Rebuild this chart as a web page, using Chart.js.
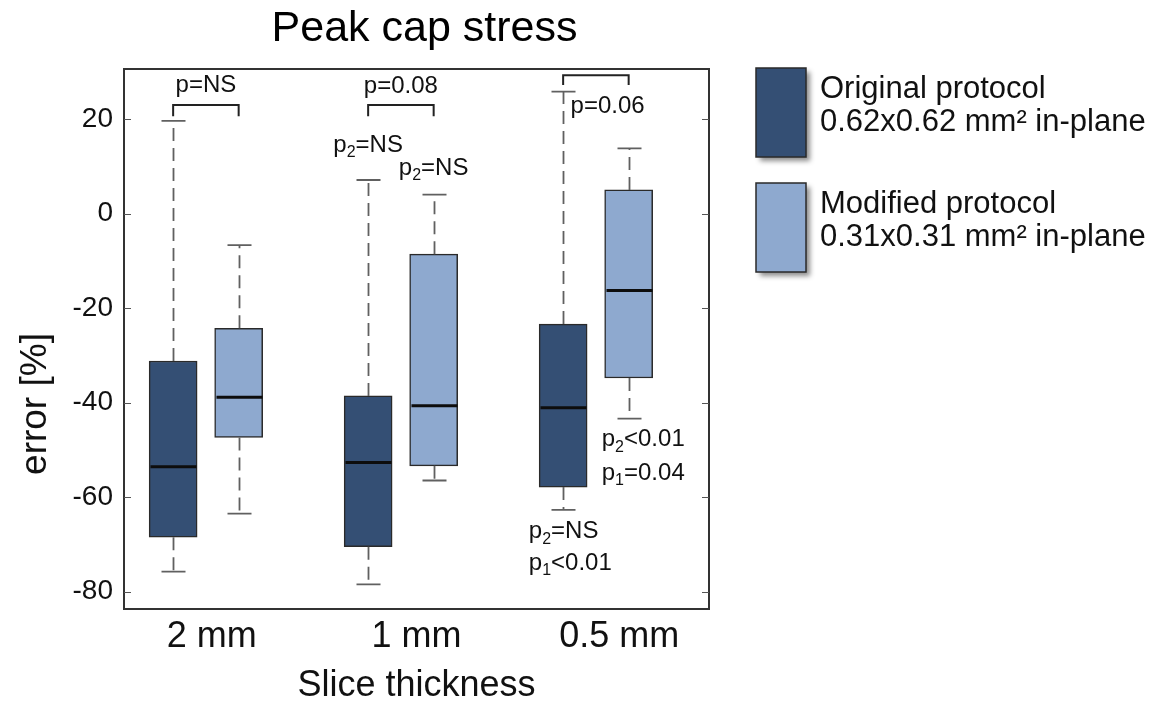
<!DOCTYPE html>
<html>
<head>
<meta charset="utf-8">
<title>Peak cap stress</title>
<script src="https://cdn.jsdelivr.net/npm/chart.js@4.4.1/dist/chart.umd.min.js"></script>
<style>
  html, body { margin: 0; padding: 0; background: #fff; }
  #wrap { width: 1157px; height: 704px; }
</style>
</head>
<body>
<div id="wrap"><canvas id="chart" width="1157" height="704"></canvas></div>
<script>
// categories, where their labels sit on the x axis, and y ticks
const CATEGORIES = ['2 mm', '1 mm', '0.5 mm'];
const CATEGORY_LABEL_AT = [0.03, 1.08, 2.12];
const Y_TICKS = [-80, -60, -40, -20, 0, 20];

// Original protocol (0.62x0.62 mm2) - box stats
const ORIG_MIN = [-75.8, -78.5, -62.7];
const ORIG_Q1  = [-68.5, -70.5, -57.9];
const ORIG_MED = [-53.6, -52.7, -41.1];
const ORIG_Q3  = [-31.2, -38.6, -23.4];
const ORIG_MAX = [19.6, 7.1, 25.8];

// Modified protocol (0.31x0.31 mm2)
const MOD_MIN = [-63.5, -56.5, -43.4];
const MOD_Q1  = [-47.4, -53.4, -34.8];
const MOD_MED = [-38.9, -40.7, -16.3];
const MOD_Q3  = [-24.3, -8.6, 5.0];
const MOD_MAX = [-6.7, 4.0, 13.8];

// p-value texts
const PAIR_P = ['p=NS', 'p=0.08', 'p=0.06'];

const DARK = '#344f74';
const LIGHT = '#8ea9cf';
const EDGE = '#2a2a2a';
const WHISK = '#606060';
const FONT = '"Liberation Sans", Arial, sans-serif';
const PAIR = 0.168;   // half distance between the two boxes of a group (axis units)

function boxData(q1, q3, sign) {
  return CATEGORIES.map((c, i) => ({ x: i + sign * PAIR, y: [q1[i], q3[i]] }));
}

// p texts with subscripts: [text, isSub]
function pText(idx, rest) { return [['p', false], [String(idx), true], [rest, false]]; }

function drawRich(ctx, parts, x, y, align, size) {
  const subSize = Math.round(size * 0.68);
  let w = 0;
  parts.forEach(([t, sub]) => {
    ctx.font = `${sub ? subSize : size}px ${FONT}`;
    w += ctx.measureText(t).width;
  });
  let cx = align === 'center' ? x - w / 2 : (align === 'right' ? x - w : x);
  ctx.textAlign = 'left';
  ctx.textBaseline = 'middle';
  parts.forEach(([t, sub]) => {
    ctx.font = `${sub ? subSize : size}px ${FONT}`;
    ctx.fillText(t, cx, sub ? y + size * 0.32 : y);
    cx += ctx.measureText(t).width;
  });
}

// whiskers, caps and medians drawn from the stats arrays through the scales
const boxParts = {
  id: 'boxParts',
  afterDatasetsDraw(chart) {
    const { ctx, scales: { x, y } } = chart;
    const groups = [
      { sign: -1, min: ORIG_MIN, med: ORIG_MED, q1: ORIG_Q1, q3: ORIG_Q3, max: ORIG_MAX },
      { sign: 1, min: MOD_MIN, med: MOD_MED, q1: MOD_Q1, q3: MOD_Q3, max: MOD_MAX }
    ];
    ctx.save();
    groups.forEach(g => {
      CATEGORIES.forEach((c, i) => {
        const px = Math.round(x.getPixelForValue(i + g.sign * PAIR)) + 0.5;
        const half = 24;
        // dashed whiskers
        ctx.strokeStyle = WHISK;
        ctx.lineWidth = 1.8;
        ctx.setLineDash([13, 7]);
        ctx.beginPath();
        ctx.moveTo(px, y.getPixelForValue(g.q3[i]));
        ctx.lineTo(px, y.getPixelForValue(g.max[i]));
        ctx.moveTo(px, y.getPixelForValue(g.q1[i]));
        ctx.lineTo(px, y.getPixelForValue(g.min[i]));
        ctx.stroke();
        // caps
        ctx.setLineDash([]);
        ctx.beginPath();
        [g.max[i], g.min[i]].forEach(v => {
          const py = y.getPixelForValue(v);
          ctx.moveTo(px - 12, py);
          ctx.lineTo(px + 12, py);
        });
        ctx.stroke();
        // median
        ctx.strokeStyle = '#0d0d0d';
        ctx.lineWidth = 3;
        ctx.beginPath();
        const my = y.getPixelForValue(g.med[i]);
        ctx.moveTo(px - half + 1, my);
        ctx.lineTo(px + half - 1, my);
        ctx.stroke();
      });
    });
    ctx.restore();
  }
};

// title, frame, inward ticks, p-value brackets/notes and the legend
const decor = {
  id: 'decor',
  afterDraw(chart) {
    const { ctx, chartArea: a, scales: { x, y } } = chart;
    ctx.save();
    // title
    ctx.fillStyle = '#000';
    ctx.font = `43px ${FONT}`;
    ctx.textAlign = 'center';
    ctx.textBaseline = 'middle';
    ctx.fillText('Peak cap stress', (a.left + a.right) / 2 + 8, 29);

    // y axis title (sits a bit below the axis centre in the original)
    ctx.save();
    ctx.translate(36, 404);
    ctx.rotate(-Math.PI / 2);
    ctx.fillStyle = '#111';
    ctx.font = `37px ${FONT}`;
    ctx.fillText('error [%]', 0, 0);
    ctx.restore();

    // frame
    ctx.strokeStyle = '#333';
    ctx.lineWidth = 2;
    ctx.strokeRect(a.left, a.top, a.right - a.left, a.bottom - a.top);
    ctx.lineWidth = 1.2;
    ctx.strokeStyle = '#555';
    ctx.beginPath();
    Y_TICKS.forEach(v => {
      const py = Math.round(y.getPixelForValue(v)) + 0.5;
      ctx.moveTo(a.left, py); ctx.lineTo(a.left + 7, py);
      ctx.moveTo(a.right, py); ctx.lineTo(a.right - 7, py);
    });
    ctx.stroke();

    // brackets between the two boxes of each group
    const brTop = [23.0, 23.0, 29.3];
    const brLeg = [20.6, 20.6, 27.2];
    ctx.strokeStyle = '#222';
    ctx.lineWidth = 2;
    CATEGORIES.forEach((c, i) => {
      const x1 = x.getPixelForValue(i - PAIR), x2 = x.getPixelForValue(i + PAIR);
      const yt = y.getPixelForValue(brTop[i]), yl = y.getPixelForValue(brLeg[i]);
      ctx.beginPath();
      ctx.moveTo(x1, yl); ctx.lineTo(x1, yt); ctx.lineTo(x2, yt); ctx.lineTo(x2, yl);
      ctx.stroke();
    });

    ctx.fillStyle = '#111';
    const size = 24;
    drawRich(ctx, [[PAIR_P[0], false]], x.getPixelForValue(0), y.getPixelForValue(27.2), 'center', size);
    drawRich(ctx, [[PAIR_P[1], false]], x.getPixelForValue(1), y.getPixelForValue(27.0), 'center', size);
    drawRich(ctx, [[PAIR_P[2], false]], x.getPixelForValue(1.87), y.getPixelForValue(22.6), 'left', size);
    drawRich(ctx, pText(2, '=NS'), x.getPixelForValue(1 - PAIR), y.getPixelForValue(14.5), 'center', size);
    drawRich(ctx, pText(2, '=NS'), x.getPixelForValue(1 + PAIR), y.getPixelForValue(9.6), 'center', size);
    drawRich(ctx, pText(2, '<0.01'), x.getPixelForValue(2.03), y.getPixelForValue(-47.9), 'left', size);
    drawRich(ctx, pText(1, '=0.04'), x.getPixelForValue(2.03), y.getPixelForValue(-54.9), 'left', size);
    drawRich(ctx, pText(2, '=NS'), x.getPixelForValue(1.656), y.getPixelForValue(-67.3), 'left', size);
    drawRich(ctx, pText(1, '<0.01'), x.getPixelForValue(1.656), y.getPixelForValue(-74.0), 'left', size);

    // legend
    const items = [
      { color: DARK, top: 68, lines: ['Original protocol', '0.62x0.62 mm\u00b2 in-plane'] },
      { color: LIGHT, top: 183, lines: ['Modified protocol', '0.31x0.31 mm\u00b2 in-plane'] }
    ];
    items.forEach(it => {
      ctx.save();
      ctx.shadowColor = 'rgba(0,0,0,0.45)';
      ctx.shadowBlur = 5;
      ctx.shadowOffsetX = 4;
      ctx.shadowOffsetY = 4;
      ctx.fillStyle = it.color;
      ctx.fillRect(756, it.top, 50, 89);
      ctx.restore();
      ctx.strokeStyle = '#2a2a2a';
      ctx.lineWidth = 1.5;
      ctx.strokeRect(756, it.top, 50, 89);
      ctx.fillStyle = '#111';
      ctx.font = `31px ${FONT}`;
      ctx.textAlign = 'left';
      ctx.textBaseline = 'middle';
      ctx.fillText(it.lines[0], 820, it.top + 21);
      ctx.fillText(it.lines[1], 820, it.top + 54);
    });
    ctx.restore();
  }
};

new Chart(document.getElementById('chart'), {
  type: 'bar',
  data: {
    datasets: [
      { label: 'Original protocol', data: boxData(ORIG_Q1, ORIG_Q3, -1), backgroundColor: DARK, borderColor: EDGE, borderWidth: 1.5, borderSkipped: false, barThickness: 48, grouped: false },
      { label: 'Modified protocol', data: boxData(MOD_Q1, MOD_Q3, 1), backgroundColor: LIGHT, borderColor: EDGE, borderWidth: 1.5, borderSkipped: false, barThickness: 48, grouped: false }
    ]
  },
  options: {
    responsive: false,
    animation: false,
    layout: { padding: { left: 0, right: 448, top: 69, bottom: 0 } },
    plugins: {
      legend: { display: false },
      tooltip: { enabled: false },
      title: { display: false }
    },
    scales: {
      x: {
        type: 'linear', min: -0.42, max: 2.58, offset: false,
        grid: { display: false, drawTicks: false }, border: { display: false },
        afterBuildTicks: s => { s.ticks = CATEGORY_LABEL_AT.map(v => ({ value: v })); },
        afterFit: s => { s.height = 95; },
        ticks: { autoSkip: false, maxRotation: 0, padding: 10, color: '#111', font: { family: FONT, size: 36, lineHeight: 1 }, callback: (v, i) => CATEGORIES[i] },
        title: { display: true, text: 'Slice thickness', color: '#111', font: { family: FONT, size: 36, lineHeight: 1 }, padding: { top: 0, bottom: 0 } }
      },
      y: {
        min: -83.7, max: 30.6,
        grid: { display: false, drawTicks: false }, border: { display: false },
        afterBuildTicks: s => { s.ticks = Y_TICKS.map(v => ({ value: v })); },
        afterFit: s => { s.width = 124; },
        ticks: { padding: 11, color: '#111', font: { family: FONT, size: 28 } },
        title: { display: false }
      }
    }
  },
  plugins: [boxParts, decor]
});
</script>
</body>
</html>
